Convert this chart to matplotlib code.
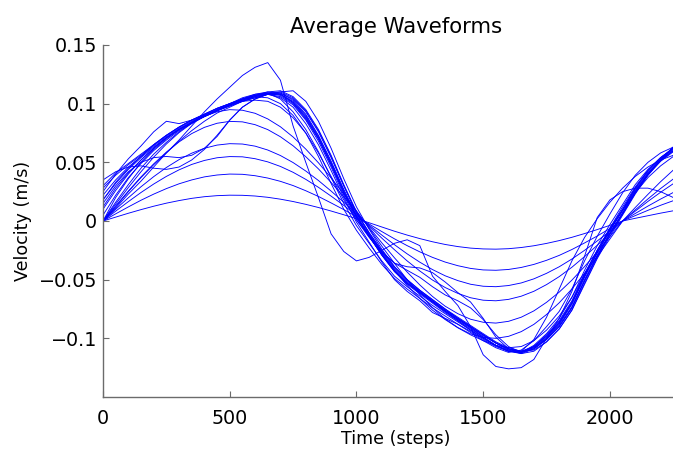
import matplotlib
matplotlib.use("Agg")
import matplotlib.pyplot as plt

# Sample times (steps) shared by every averaged waveform
time_steps = list(range(0, 2251, 50))

# Low-amplitude waveforms (velocity, m/s)
wave_low_1 = [0.0000, 0.0033, 0.0066, 0.0097, 0.0126, 0.0152, 0.0174, 0.0193, 0.0207, 0.0216,
              0.0220, 0.0219, 0.0213, 0.0202, 0.0186, 0.0166, 0.0142, 0.0115, 0.0085, 0.0053,
              0.0020, -0.0015, -0.0051, -0.0087, -0.0120, -0.0150, -0.0177, -0.0200, -0.0218, -0.0231,
              -0.0238, -0.0240, -0.0236, -0.0226, -0.0211, -0.0191, -0.0167, -0.0139, -0.0107, -0.0073,
              -0.0037, 0.0000, 0.0023, 0.0045, 0.0067, 0.0087]
wave_low_2 = [0.0000, 0.0061, 0.0120, 0.0177, 0.0229, 0.0276, 0.0317, 0.0350, 0.0376, 0.0392,
              0.0400, 0.0398, 0.0386, 0.0366, 0.0338, 0.0302, 0.0258, 0.0209, 0.0154, 0.0097,
              0.0037, -0.0026, -0.0090, -0.0152, -0.0210, -0.0263, -0.0310, -0.0350, -0.0381, -0.0404,
              -0.0417, -0.0420, -0.0413, -0.0396, -0.0370, -0.0335, -0.0293, -0.0243, -0.0187, -0.0128,
              -0.0064, 0.0000, 0.0046, 0.0091, 0.0134, 0.0173]
wave_low_3 = [0.0000, 0.0084, 0.0165, 0.0243, 0.0315, 0.0380, 0.0436, 0.0482, 0.0516, 0.0539,
              0.0549, 0.0547, 0.0531, 0.0504, 0.0465, 0.0415, 0.0355, 0.0287, 0.0212, 0.0133,
              0.0050, -0.0035, -0.0120, -0.0202, -0.0280, -0.0351, -0.0414, -0.0467, -0.0508, -0.0539,
              -0.0556, -0.0560, -0.0550, -0.0528, -0.0493, -0.0446, -0.0390, -0.0324, -0.0250, -0.0170,
              -0.0086, 0.0000, 0.0064, 0.0127, 0.0187, 0.0243]
wave_low_4 = [0.0000, 0.0100, 0.0198, 0.0292, 0.0378, 0.0456, 0.0523, 0.0578, 0.0620, 0.0647,
              0.0659, 0.0656, 0.0638, 0.0605, 0.0558, 0.0498, 0.0426, 0.0345, 0.0255, 0.0160,
              0.0060, -0.0042, -0.0146, -0.0245, -0.0340, -0.0426, -0.0503, -0.0567, -0.0617, -0.0654,
              -0.0675, -0.0680, -0.0668, -0.0641, -0.0599, -0.0542, -0.0474, -0.0394, -0.0303, -0.0207,
              -0.0104, 0.0000, 0.0084, 0.0167, 0.0245, 0.0318]
wave_low_5 = [0.0000, 0.0129, 0.0255, 0.0376, 0.0487, 0.0587, 0.0674, 0.0745, 0.0798, 0.0833,
              0.0849, 0.0845, 0.0821, 0.0779, 0.0718, 0.0641, 0.0548, 0.0444, 0.0328, 0.0206,
              0.0078, -0.0054, -0.0186, -0.0314, -0.0435, -0.0545, -0.0643, -0.0726, -0.0790, -0.0837,
              -0.0863, -0.0870, -0.0855, -0.0820, -0.0766, -0.0693, -0.0606, -0.0504, -0.0388, -0.0264,
              -0.0133, 0.0000, 0.0095, 0.0188, 0.0277, 0.0358]
wave_low_6 = [0.0000, 0.0144, 0.0285, 0.0420, 0.0544, 0.0656, 0.0753, 0.0832, 0.0892, 0.0931,
              0.0949, 0.0944, 0.0918, 0.0870, 0.0803, 0.0716, 0.0613, 0.0496, 0.0367, 0.0230,
              0.0087, -0.0062, -0.0214, -0.0361, -0.0500, -0.0627, -0.0739, -0.0834, -0.0908, -0.0962,
              -0.0992, -0.1000, -0.0983, -0.0943, -0.0881, -0.0797, -0.0697, -0.0579, -0.0446, -0.0304,
              -0.0153, 0.0000, 0.0115, 0.0227, 0.0335, 0.0434]

# Full-amplitude waveforms
wave_main_1 = [0.030, 0.041, 0.049, 0.057, 0.065, 0.073, 0.080, 0.086, 0.091, 0.096,
               0.100, 0.104, 0.107, 0.110, 0.111, 0.106, 0.095, 0.078, 0.056, 0.031,
               0.008, -0.010, -0.026, -0.040, -0.051, -0.060, -0.068, -0.076, -0.083, -0.090,
               -0.097, -0.104, -0.110, -0.113, -0.111, -0.103, -0.092, -0.076, -0.054, -0.032,
               -0.013, 0.005, 0.023, 0.039, 0.052, 0.063]
wave_main_2 = [0.010, 0.026, 0.040, 0.052, 0.062, 0.071, 0.078, 0.084, 0.089, 0.094,
               0.099, 0.104, 0.108, 0.109, 0.104, 0.093, 0.078, 0.059, 0.037, 0.015,
               -0.004, -0.019, -0.034, -0.047, -0.056, -0.064, -0.072, -0.079, -0.086, -0.093,
               -0.100, -0.106, -0.111, -0.112, -0.106, -0.096, -0.083, -0.065, -0.042, -0.021,
               -0.003, 0.014, 0.031, 0.044, 0.054, 0.062]
wave_main_3 = [0.000, 0.020, 0.036, 0.050, 0.061, 0.070, 0.078, 0.084, 0.090, 0.095,
               0.100, 0.105, 0.108, 0.110, 0.108, 0.101, 0.089, 0.071, 0.049, 0.025,
               0.004, -0.012, -0.028, -0.042, -0.053, -0.061, -0.069, -0.077, -0.085, -0.093,
               -0.100, -0.106, -0.111, -0.112, -0.107, -0.098, -0.086, -0.069, -0.046, -0.025,
               -0.006, 0.012, 0.029, 0.043, 0.054, 0.062]
wave_main_4 = [0.025, 0.040, 0.053, 0.064, 0.076, 0.085, 0.083, 0.086, 0.090, 0.094,
               0.098, 0.102, 0.105, 0.108, 0.108, 0.102, 0.090, 0.072, 0.050, 0.026,
               0.004, -0.013, -0.029, -0.043, -0.053, -0.061, -0.069, -0.077, -0.084, -0.091,
               -0.099, -0.106, -0.111, -0.112, -0.107, -0.097, -0.085, -0.068, -0.045, -0.025,
               -0.006, 0.010, 0.028, 0.042, 0.053, 0.061]
wave_main_5 = [0.015, 0.030, 0.042, 0.050, 0.054, 0.055, 0.054, 0.056, 0.062, 0.072,
               0.086, 0.097, 0.104, 0.108, 0.108, 0.101, 0.088, 0.070, 0.048, 0.024,
               0.003, -0.013, -0.029, -0.043, -0.054, -0.062, -0.070, -0.078, -0.085, -0.092,
               -0.099, -0.106, -0.110, -0.111, -0.107, -0.098, -0.087, -0.070, -0.047, -0.027,
               -0.008, 0.009, 0.026, 0.040, 0.051, 0.059]
wave_main_6 = [0.035, 0.042, 0.046, 0.047, 0.045, 0.044, 0.046, 0.052, 0.061, 0.073,
               0.086, 0.097, 0.104, 0.108, 0.109, 0.104, 0.093, 0.076, 0.054, 0.030,
               0.007, -0.011, -0.027, -0.041, -0.052, -0.060, -0.068, -0.076, -0.083, -0.090,
               -0.097, -0.104, -0.109, -0.111, -0.108, -0.100, -0.089, -0.073, -0.050, -0.029,
               -0.010, 0.007, 0.025, 0.040, 0.052, 0.062]
wave_main_7 = [0.018, 0.032, 0.044, 0.054, 0.063, 0.071, 0.078, 0.084, 0.089, 0.094,
               0.099, 0.103, 0.106, 0.108, 0.106, 0.099, 0.086, 0.068, 0.046, 0.022,
               0.001, -0.014, -0.027, -0.036, -0.039, -0.040, -0.044, -0.052, -0.061, -0.069,
               -0.083, -0.099, -0.109, -0.112, -0.108, -0.099, -0.087, -0.070, -0.047, -0.027,
               -0.008, 0.009, 0.027, 0.041, 0.052, 0.060]
wave_main_8 = [0.028, 0.039, 0.048, 0.056, 0.065, 0.073, 0.080, 0.086, 0.091, 0.096,
               0.100, 0.104, 0.107, 0.109, 0.109, 0.103, 0.091, 0.073, 0.051, 0.027,
               0.005, -0.012, -0.026, -0.036, -0.042, -0.048, -0.056, -0.063, -0.068, -0.074,
               -0.084, -0.097, -0.107, -0.112, -0.109, -0.101, -0.090, -0.074, -0.051, -0.030,
               -0.011, 0.006, 0.024, 0.039, 0.051, 0.060]
wave_main_9 = [0.022, 0.035, 0.046, 0.055, 0.064, 0.072, 0.079, 0.085, 0.090, 0.094,
               0.098, 0.102, 0.105, 0.108, 0.110, 0.111, 0.102, 0.085, 0.062, 0.036,
               0.012, -0.007, -0.024, -0.039, -0.050, -0.059, -0.067, -0.075, -0.083, -0.090,
               -0.097, -0.104, -0.109, -0.112, -0.109, -0.101, -0.090, -0.074, -0.051, -0.030,
               -0.011, 0.006, 0.024, 0.040, 0.053, 0.063]
wave_main_10 = [0.005, 0.022, 0.037, 0.049, 0.060, 0.069, 0.077, 0.083, 0.089, 0.094,
                0.099, 0.103, 0.106, 0.105, 0.100, 0.090, 0.075, 0.055, 0.032, 0.010,
                -0.008, -0.023, -0.037, -0.049, -0.058, -0.066, -0.074, -0.081, -0.088, -0.095,
                -0.102, -0.108, -0.112, -0.110, -0.102, -0.090, -0.077, -0.058, -0.034, -0.013,
                0.006, 0.024, 0.039, 0.050, 0.058, 0.063]
wave_main_11 = [0.012, 0.028, 0.041, 0.052, 0.062, 0.071, 0.078, 0.084, 0.089, 0.094,
                0.099, 0.103, 0.107, 0.109, 0.107, 0.100, 0.087, 0.070, 0.048, 0.024,
                0.003, -0.013, -0.029, -0.043, -0.053, -0.061, -0.069, -0.077, -0.084, -0.091,
                -0.098, -0.104, -0.109, -0.111, -0.101, -0.082, -0.058, -0.034, -0.014, 0.002,
                0.016, 0.028, 0.038, 0.046, 0.052, 0.056]
wave_main_12 = [0.018, 0.033, 0.045, 0.055, 0.065, 0.073, 0.080, 0.086, 0.091, 0.096,
                0.100, 0.104, 0.107, 0.108, 0.105, 0.097, 0.083, 0.065, 0.043, 0.020,
                -0.001, -0.018, -0.035, -0.050, -0.060, -0.068, -0.078, -0.083, -0.088, -0.094,
                -0.101, -0.107, -0.111, -0.113, -0.109, -0.100, -0.088, -0.071, -0.048, -0.027,
                -0.008, 0.010, 0.028, 0.043, 0.054, 0.062]
wave_main_13 = [0.000, 0.012, 0.025, 0.037, 0.048, 0.058, 0.068, 0.077, 0.085, 0.092,
                0.097, 0.102, 0.106, 0.109, 0.110, 0.105, 0.094, 0.077, 0.055, 0.030,
                0.007, -0.010, -0.025, -0.039, -0.050, -0.059, -0.067, -0.075, -0.082, -0.089,
                -0.096, -0.103, -0.108, -0.111, -0.110, -0.103, -0.092, -0.076, -0.053, -0.031,
                -0.011, 0.007, 0.025, 0.040, 0.052, 0.060]
wave_main_14 = [0.000, 0.016, 0.031, 0.045, 0.057, 0.067, 0.076, 0.084, 0.090, 0.095,
                0.099, 0.102, 0.103, 0.102, 0.097, 0.088, 0.075, 0.058, 0.038, 0.018,
                0.001, -0.013, -0.028, -0.042, -0.055, -0.066, -0.076, -0.084, -0.091, -0.097,
                -0.102, -0.106, -0.108, -0.107, -0.102, -0.093, -0.081, -0.065, -0.045, -0.025,
                -0.007, 0.009, 0.024, 0.037, 0.047, 0.055]

# Waveform with the sharp early peak and the deep flat trough
wave_peak = [0.000, 0.011, 0.023, 0.034, 0.046, 0.058, 0.069, 0.081, 0.093, 0.104,
             0.114, 0.124, 0.131, 0.135, 0.120, 0.081, 0.050, 0.020, -0.011, -0.026,
             -0.034, -0.031, -0.025, -0.019, -0.016, -0.021, -0.047, -0.060, -0.072, -0.090,
             -0.114, -0.124, -0.126, -0.125, -0.118, -0.100, -0.083, -0.060, -0.030, 0.003,
             0.018, 0.025, 0.028, 0.028, 0.025, 0.020]

waveforms = [wave_low_1, wave_low_2, wave_low_3, wave_low_4, wave_low_5, wave_low_6,
             wave_main_1, wave_main_2, wave_main_3, wave_main_4, wave_main_5,
             wave_main_6, wave_main_7, wave_main_8, wave_main_9, wave_main_10,
             wave_main_11, wave_main_12, wave_main_13, wave_main_14, wave_peak]

x_ticks = [0, 500, 1000, 1500, 2000]
y_ticks = [-0.1, -0.05, 0, 0.05, 0.1, 0.15]
y_tick_labels = ["\u22120.1", "\u22120.05", "0", "0.05", "0.1", "0.15"]

plt.rcParams["font.family"] = ["DejaVu Sans"]

W, H = 673, 454
fig = plt.figure(figsize=(W / 100, H / 100), dpi=100)
ax_left, ax_right, ax_top, ax_bottom = 103, 689, 45, 397
ax = fig.add_axes([ax_left / W, 1 - ax_bottom / H,
                   (ax_right - ax_left) / W, (ax_bottom - ax_top) / H])

for wave in waveforms:
    ax.plot(time_steps, wave, color="#0000ff", linewidth=0.65)

ax.set_xlim(0, 2312)
ax.set_ylim(-0.15, 0.15)

ax.set_xticks(x_ticks)
ax.set_xticklabels([str(v) for v in x_ticks])
ax.set_yticks(y_ticks)
ax.set_yticklabels(y_tick_labels)

axis_grey = "#6b6b6b"
for side in ("top", "right"):
    ax.spines[side].set_visible(False)
for side in ("left", "bottom"):
    ax.spines[side].set_color(axis_grey)
    ax.spines[side].set_linewidth(1.0)

ax.tick_params(axis="both", direction="in", length=4, width=0.8,
               color=axis_grey, labelcolor="black", labelsize=13.8)
ax.tick_params(axis="x", pad=8.5)
ax.tick_params(axis="y", pad=4.3)

ax.set_title("Average Waveforms", fontsize=15.3, pad=8.9)
ax.set_xlabel("Time (steps)", fontsize=12.6)
ax.set_ylabel("Velocity (m/s)", fontsize=12.6)
span = ax_right - ax_left
ax.xaxis.set_label_coords(0.5, (ax_bottom - 430) / (ax_bottom - ax_top))
ax.yaxis.set_label_coords((32 - ax_left) / span, 0.5)

fig.savefig("out.png", dpi=100)
